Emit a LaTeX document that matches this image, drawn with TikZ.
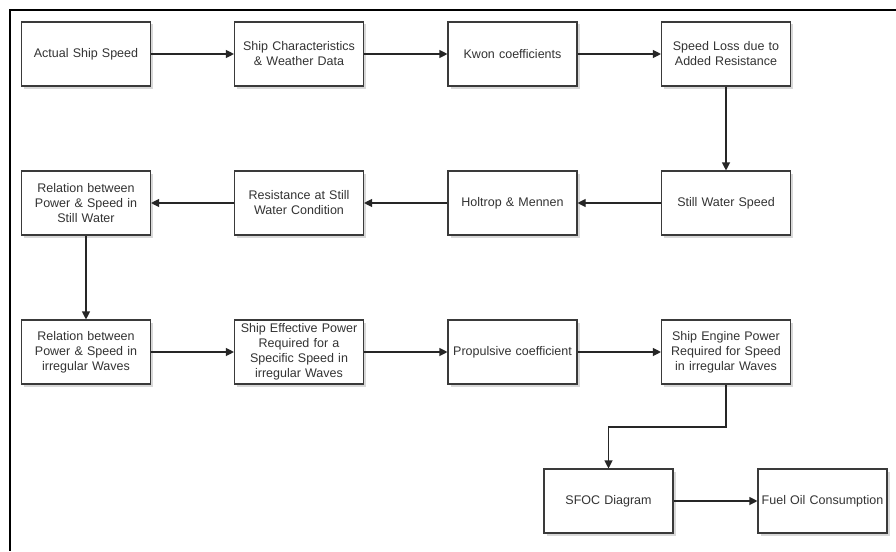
\documentclass[tikz,border=0pt]{standalone}
\usepackage{fontspec}
\setmainfont{Liberation Sans}
\usetikzlibrary{arrows.meta,shadows}
\definecolor{txt}{HTML}{333333}
\definecolor{edge}{HTML}{3A3A3A}
\tikzset{
  box/.style={draw=edge, line width=1.1pt, fill=white, minimum width=128pt, minimum height=64pt,
    inner sep=1pt, align=center, text width=127pt, font=\fontsize{12.5}{15}\selectfont, text=txt,
    drop shadow={shadow xshift=2.5pt, shadow yshift=-2.5pt, fill=black!25, opacity=0.6}},
  conn/.style={draw=black!85, line width=1.1pt, -{Triangle[length=8pt,width=8pt]}},
}
\begin{document}
\begin{tikzpicture}[x=1pt,y=-1pt]
\useasboundingbox (0,0) rectangle (896,551);
\fill[white] (0,0) rectangle (896,551);
\draw[line width=2pt] (896,10) -- (10,10) -- (10,551);
% row 1
\node[box] (a) at (86,54) {Actual Ship Speed};
\node[box] (b) at (299,54) {Ship Characteristics\\ \& Weather Data};
\node[box] (c) at (512.5,54) {Kwon coefficients};
\node[box] (d) at (726,54) {Speed Loss due to\\ Added Resistance};
% row 2
\node[box] (e) at (726,203) {Still Water Speed};
\node[box] (f) at (512.5,203) {Holtrop \& Mennen};
\node[box] (g) at (299,203) {Resistance at Still\\ Water Condition};
\node[box] (h) at (86,203) {Relation between\\ Power \& Speed in\\ Still Water};
% row 3
\node[box] (i) at (86,352) {Relation between\\ Power \& Speed in\\ irregular Waves};
\node[box] (j) at (299,352) {Ship Effective Power\\ Required for a\\ Specific Speed in\\ irregular Waves};
\node[box] (k) at (512.5,352) {Propulsive coefficient};
\node[box] (l) at (726,352) {Ship Engine Power\\ Required for Speed\\ in irregular Waves};
% row 4
\node[box] (m) at (608.5,501) {SFOC Diagram};
\node[box] (n) at (822.5,501) {Fuel Oil Consumption};
\coordinate (bend1) at (726,427);
\coordinate (bend2) at (608.5,427);
% connectors
\draw[conn] (a) -- (b);
\draw[conn] (b) -- (c);
\draw[conn] (c) -- (d);
\draw[conn] (d) -- (e);
\draw[conn] (e) -- (f);
\draw[conn] (f) -- (g);
\draw[conn] (g) -- (h);
\draw[conn] (h) -- (i);
\draw[conn] (i) -- (j);
\draw[conn] (j) -- (k);
\draw[conn] (k) -- (l);
\draw[conn] (l.south) -- (bend1) -- (bend2) -- (m.north);
\draw[conn] (m) -- (n);
\end{tikzpicture}
\end{document}
